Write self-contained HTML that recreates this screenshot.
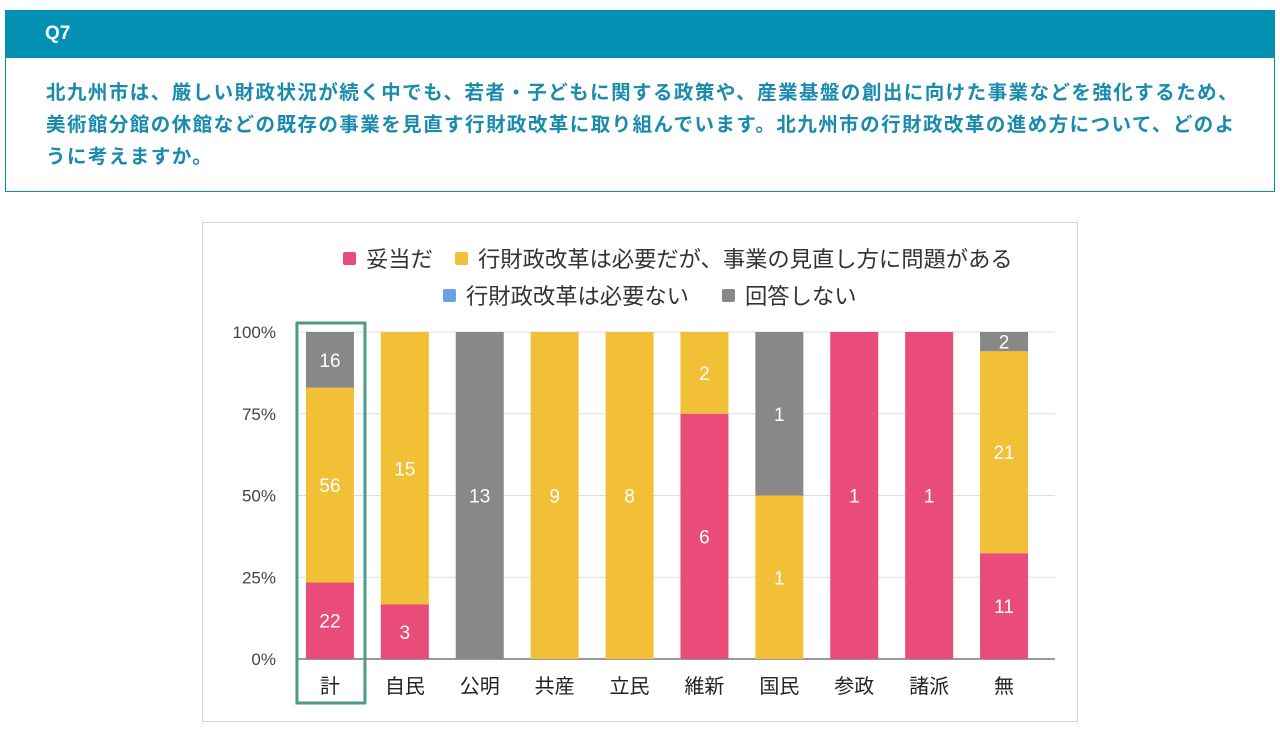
<!DOCTYPE html>
<html><head><meta charset="utf-8">
<style>
body{margin:0;width:1280px;height:730px;background:#fff;font-family:"Liberation Sans","Noto Sans CJK JP",sans-serif;overflow:hidden;position:relative}
#hdr{position:absolute;left:5px;top:10px;width:1270px;height:48px;background:#0291b3;color:#fff;font-size:19px;font-weight:bold;line-height:48px;box-sizing:border-box;padding-left:40px}
#qbox{position:absolute;left:5px;top:58px;width:1270px;height:134px;border:1px solid #0291b3;border-top:none;box-sizing:border-box;padding:19px 0 0 40px;color:#1a8bad;font-size:19.5px;font-weight:bold;line-height:32px;letter-spacing:1.45px;white-space:nowrap}
#panel{position:absolute;left:202px;top:222px;width:876px;height:500px;border:1px solid #d6d6d6;box-sizing:border-box}
svg{position:absolute;left:0;top:0}
</style></head><body>
<div id="hdr">Q7</div>
<div id="qbox">北九州市は、厳しい財政状況が続く中でも、若者・子どもに関する政策や、産業基盤の創出に向けた事業などを強化するため、<br>美術館分館の休館などの既存の事業を見直す行財政改革に取り組んでいます。北九州市の行財政改革の進め方について、どのよ<br>うに考えますか。</div>
<div id="panel"></div>
<svg id="chart" width="1280" height="730"></svg>
<script>
const categories=["計","自民","公明","共産","立民","維新","国民","参政","諸派","無"];
const s1=[22,3,0,0,0,6,0,1,1,11];
const s2=[56,15,0,9,8,2,1,0,0,21];
const s3=[0,0,0,0,0,0,0,0,0,0];
const s4=[16,0,13,0,0,0,1,0,0,2];
const seriesNames=["妥当だ","行財政改革は必要だが、事業の見直し方に問題がある","行財政改革は必要ない","回答しない"];
const ticks=[0,25,50,75,100];
const colors=["#e94b7b","#f2c037","#6aa2e8","#888888"];
const NS="http://www.w3.org/2000/svg";
const svg=document.getElementById('chart');
const x0=292.5,x1=1041.5,yTop=332,yBot=659,bw=48;
const band=(x1-x0)/categories.length;
const xc=i=>x0+band*(i+0.5);
const y=p=>yBot-(yBot-yTop)*p/100;
function mk(t,a,txt){const e=document.createElementNS(NS,t);for(const k in a)e.setAttribute(k,a[k]);if(txt!==undefined)e.textContent=txt;svg.appendChild(e);return e;}
ticks.forEach(t=>{
 const l=mk('line',{x1:297,x2:1055,y1:y(t),y2:y(t),stroke:t===0?'#333':'#ddd','stroke-width':1});
 
 
 const tx=mk('text',{x:276,y:y(t)+6,'text-anchor':'end','font-size':17,fill:'#444'},t+'%');
 
 
});
const series=[s1,s2,s3,s4];
categories.forEach((c,i)=>{
 const tot=series.reduce((a,s)=>a+s[i],0);
 let acc=0;
 series.forEach((s,k)=>{
  const v=s[i];if(!v)return;
  const p0=acc/tot*100,p1=(acc+v)/tot*100;acc+=v;
  const r=mk('rect',{x:xc(i)-bw/2,y:y(p1),width:bw,height:y(p0)-y(p1),fill:colors[k]});
  
  
  const lb=mk('text',{x:xc(i),y:(y(p0)+y(p1))/2+7,'text-anchor':'middle','font-size':19,fill:'#fff'},v);
  
  
 });
 const xl=mk('text',{x:xc(i),y:693,'text-anchor':'middle','font-size':20,fill:'#222'},c);
 
 
});
const hl=mk('rect',{x:xc(0)-33,y:323,width:68,height:380,fill:'none',stroke:'#4e9a84','stroke-width':3});


const leg=[[343,259,0],[455,259,1],[443,296,2],[722,296,3]];
leg.forEach(([lx,ly,k])=>{
 const r=mk('rect',{x:lx,y:ly-7,width:13,height:13,rx:2,fill:colors[k]});
 
 
 const t=mk('text',{x:lx+23,y:ly+8,'font-size':22.3,fill:'#333'},seriesNames[k]);
 
 
});
</script>
</body></html>
